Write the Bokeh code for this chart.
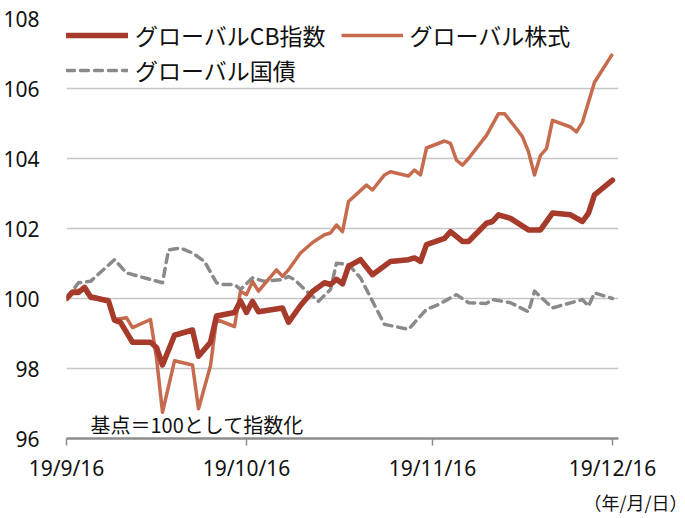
import pandas as pd
from bokeh.plotting import figure
from bokeh.models import Range1d, FixedTicker, Legend, LegendItem, Label, Title
from bokeh.embed import file_html
from bokeh.resources import INLINE

# ---------------- data ----------------
cb_dates = ["2019-09-16", "2019-09-17", "2019-09-18", "2019-09-19", "2019-09-20",
            "2019-09-23", "2019-09-24", "2019-09-25", "2019-09-27", "2019-09-30",
            "2019-10-01", "2019-10-02", "2019-10-04", "2019-10-07", "2019-10-08",
            "2019-10-10", "2019-10-11", "2019-10-14", "2019-10-15", "2019-10-16",
            "2019-10-17", "2019-10-18", "2019-10-22", "2019-10-23", "2019-10-25",
            "2019-10-27", "2019-10-29", "2019-10-30", "2019-10-31", "2019-11-01",
            "2019-11-02", "2019-11-04", "2019-11-06", "2019-11-09", "2019-11-12",
            "2019-11-13", "2019-11-14", "2019-11-15", "2019-11-18", "2019-11-19",
            "2019-11-21", "2019-11-22", "2019-11-25", "2019-11-26", "2019-11-27",
            "2019-11-29", "2019-12-02", "2019-12-04", "2019-12-06", "2019-12-09",
            "2019-12-11", "2019-12-12", "2019-12-13", "2019-12-16"]
cb_values = [100.00, 100.18, 100.17, 100.32, 100.05,
             99.93, 99.38, 99.32, 98.75, 98.75,
             98.60, 98.10, 98.95, 99.10, 98.35,
             98.75, 99.50, 99.60, 99.93, 99.60,
             99.92, 99.62, 99.73, 99.32, 99.80,
             100.20, 100.45, 100.40, 100.55, 100.42,
             100.92, 101.11, 100.68, 101.06, 101.11,
             101.16, 101.06, 101.54, 101.72, 101.91,
             101.63, 101.63, 102.15, 102.20, 102.39,
             102.29, 101.96, 101.96, 102.44, 102.39,
             102.20, 102.44, 102.96, 103.38]

eq_dates = ["2019-09-16", "2019-09-17", "2019-09-19", "2019-09-20", "2019-09-23",
            "2019-09-24", "2019-09-26", "2019-09-27", "2019-09-30", "2019-10-01",
            "2019-10-02", "2019-10-04", "2019-10-07", "2019-10-08", "2019-10-10",
            "2019-10-11", "2019-10-14", "2019-10-15", "2019-10-16", "2019-10-17",
            "2019-10-18", "2019-10-21", "2019-10-22", "2019-10-23", "2019-10-25",
            "2019-10-27", "2019-10-29", "2019-10-30", "2019-10-31", "2019-11-01",
            "2019-11-02", "2019-11-05", "2019-11-06", "2019-11-08", "2019-11-09",
            "2019-11-12", "2019-11-13", "2019-11-14", "2019-11-15", "2019-11-18",
            "2019-11-19", "2019-11-20", "2019-11-21", "2019-11-22", "2019-11-25",
            "2019-11-27", "2019-11-28", "2019-11-30", "2019-12-01", "2019-12-02",
            "2019-12-03", "2019-12-04", "2019-12-05", "2019-12-06", "2019-12-09",
            "2019-12-10", "2019-12-11", "2019-12-13", "2019-12-16"]
eq_values = [100.00, 100.21, 100.26, 100.00, 99.97,
             99.40, 99.45, 99.17, 99.40, 98.30,
             96.75, 98.22, 98.10, 96.85, 98.08,
             99.40, 99.20, 100.21, 100.11, 100.49,
             100.21, 100.82, 100.63, 100.82, 101.30,
             101.60, 101.82, 101.87, 102.10, 101.91,
             102.77, 103.24, 103.10, 103.53, 103.62,
             103.50, 103.67, 103.53, 104.30, 104.50,
             104.43, 103.95, 103.81, 104.00, 104.66,
             105.28, 105.28, 104.85, 104.62, 104.19,
             103.53, 104.09, 104.28, 105.09, 104.90,
             104.76, 105.04, 106.18, 106.99]

bond_dates = ["2019-09-16", "2019-09-18", "2019-09-20", "2019-09-24", "2019-09-26",
              "2019-10-02", "2019-10-03", "2019-10-05", "2019-10-07", "2019-10-09",
              "2019-10-11", "2019-10-12", "2019-10-14", "2019-10-15", "2019-10-17",
              "2019-10-19", "2019-10-22", "2019-10-23", "2019-10-24", "2019-10-26",
              "2019-10-28", "2019-10-30", "2019-10-31", "2019-11-02", "2019-11-04",
              "2019-11-07", "2019-11-08", "2019-11-12", "2019-11-15", "2019-11-17",
              "2019-11-20", "2019-11-22", "2019-11-25", "2019-11-26", "2019-11-29",
              "2019-12-02", "2019-12-03", "2019-12-06", "2019-12-11", "2019-12-12",
              "2019-12-13", "2019-12-16"]
bond_values = [100.00, 100.45, 100.49, 101.11, 100.73,
               100.45, 101.39, 101.44, 101.30, 101.06,
               100.45, 100.40, 100.40, 100.26, 100.59,
               100.49, 100.54, 100.63, 100.54, 100.21,
               99.92, 100.26, 101.01, 100.97, 100.59,
               99.59, 99.26, 99.12, 99.69, 99.83,
               100.11, 99.88, 99.86, 99.97, 99.88,
               99.62, 100.21, 99.73, 99.97, 99.78,
               100.16, 100.00]

series_names = ["グローバルCB指数", "グローバル株式", "グローバル国債"]
y_ticks = [96, 98, 100, 102, 104, 106, 108]
x_tick_dates = ["2019-09-16", "2019-10-16", "2019-11-16", "2019-12-16"]
x_tick_labels = ["19/9/16", "19/10/16", "19/11/16", "19/12/16"]
note_text = "基点＝100として指数化"
unit_text = "（年/月/日）"


def ms(s):
    return pd.Timestamp(s).value / 1e6


JP = "Noto Sans CJK JP"
NUM = "Noto Sans"
TXT = "#111111"

p = figure(width=684, height=516, output_backend="svg", toolbar_location=None,
           x_axis_type="datetime",
           x_range=Range1d(ms("2019-09-16"), ms("2019-12-17")),
           y_range=Range1d(96, 108),
           min_border_left=66, min_border_right=66, min_border_top=18, min_border_bottom=76)
p.outline_line_color = None
p.background_fill_color = "white"
p.border_fill_color = "white"

# grid
p.xgrid.visible = False
p.ygrid.grid_line_color = "#c6c6c6"
p.ygrid.grid_line_width = 1.6

# y axis
p.yaxis.ticker = FixedTicker(ticks=y_ticks)
p.yaxis.axis_line_color = None
p.yaxis.major_tick_line_color = None
p.yaxis.minor_tick_line_color = None
p.yaxis.major_label_standoff = 21
p.yaxis.major_label_text_font = NUM
p.yaxis.major_label_text_font_size = "21px"
p.yaxis.major_label_text_color = TXT

# x axis
p.xaxis.ticker = FixedTicker(ticks=[ms(d) for d in x_tick_dates])
p.xaxis.major_label_overrides = {ms(d): lab for d, lab in zip(x_tick_dates, x_tick_labels)}
p.xaxis.axis_line_color = "#8c8c8c"
p.xaxis.axis_line_width = 2.5
p.xaxis.major_tick_line_color = "#8c8c8c"
p.xaxis.major_tick_line_width = 1.5
p.xaxis.major_tick_in = 0
p.xaxis.major_tick_out = 7
p.xaxis.minor_tick_line_color = None
p.xaxis.major_label_standoff = 8
p.xaxis.major_label_text_font = NUM
p.xaxis.major_label_text_font_size = "21px"
p.xaxis.major_label_text_color = TXT

# lines
r_bond = p.line([pd.Timestamp(d) for d in bond_dates], bond_values,
                line_color="#8a8a8a", line_width=3.5, line_dash="8 6",
                line_cap="round", line_join="round")
r_eq = p.line([pd.Timestamp(d) for d in eq_dates], eq_values,
              line_color="#c76b4e", line_width=3.5, line_join="round")
r_cb = p.line([pd.Timestamp(d) for d in cb_dates], cb_values,
              line_color="#a63a2b", line_width=5.5, line_join="round", line_cap="round")

common = dict(padding=0, margin=0, border_line_color=None, background_fill_alpha=0,
              glyph_width=62, glyph_height=20, label_height=20, label_standoff=7,
              label_text_font=JP, label_text_font_size="23px", label_text_color=TXT)

leg1 = Legend(items=[LegendItem(label=series_names[0], renderers=[r_cb]),
                     LegendItem(label=series_names[1], renderers=[r_eq])],
              orientation="horizontal", spacing=15, location=(0, 386), **common)
leg2 = Legend(items=[LegendItem(label=series_names[2], renderers=[r_bond])],
              orientation="horizontal", location=(0, 351), **common)
p.add_layout(leg1)
p.add_layout(leg2)

p.add_layout(Label(x=ms("2019-09-20"), y=96.39, text=note_text,
                   text_font=JP, text_font_size="20px", text_color=TXT,
                   text_baseline="middle", text_align="left"))

p.add_layout(Title(text=unit_text, align="right", offset=-69, standoff=4,
                   text_font=JP, text_font_size="18px", text_font_style="normal",
                   text_color=TXT), "below")

open("out.html", "w").write(file_html(p, INLINE))
